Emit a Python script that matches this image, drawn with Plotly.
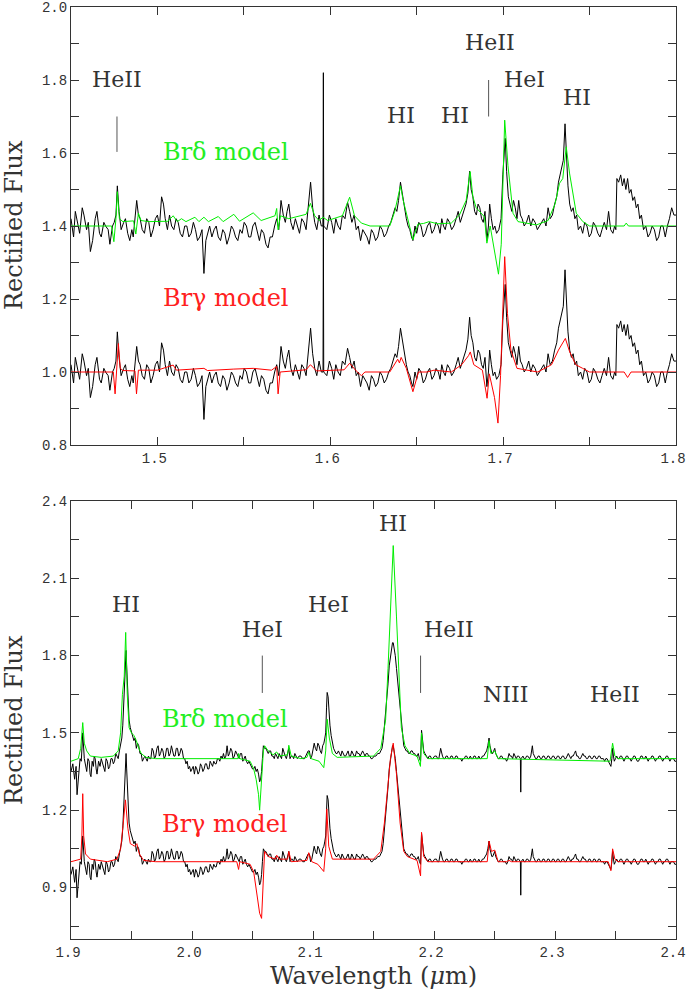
import plotly.graph_objects as go

OFFSET = 0.4  # upper copy of each spectrum is shifted by this much

# ---- H band (top panel): observed spectrum, (wavelength um, rectified flux)
h_obs = [
    (1.4500, 1.02), (1.4515, 0.97), (1.4525, 1.04), (1.4540, 1.00), (1.4550, 0.98),
    (1.4565, 1.05), (1.4575, 1.03), (1.4590, 0.99), (1.4600, 1.01), (1.4612, 0.93),
    (1.4625, 0.96), (1.4640, 1.02), (1.4650, 1.04), (1.4665, 0.98), (1.4675, 0.97),
    (1.4690, 1.01), (1.4700, 1.00), (1.4715, 0.99), (1.4725, 0.95), (1.4740, 1.00),
    (1.4750, 1.01), (1.4760, 1.03), (1.4768, 1.11), (1.4778, 1.04), (1.4790, 0.99),
    (1.4805, 1.01), (1.4815, 1.02), (1.4828, 0.98), (1.4840, 0.96), (1.4852, 0.99),
    (1.4860, 0.97), (1.4872, 1.03), (1.4880, 1.07), (1.4890, 1.03), (1.4900, 1.02),
    (1.4912, 0.99), (1.4925, 0.98), (1.4938, 1.02), (1.4950, 1.01), (1.4962, 0.97),
    (1.4975, 0.99), (1.4988, 1.02), (1.5000, 1.03), (1.5012, 1.00), (1.5024, 1.08),
    (1.5035, 1.06), (1.5045, 1.02), (1.5058, 0.99), (1.5070, 1.03), (1.5082, 1.00),
    (1.5095, 0.99), (1.5108, 1.02), (1.5120, 1.01), (1.5132, 0.98), (1.5145, 0.97),
    (1.5158, 1.00), (1.5170, 1.00), (1.5182, 0.97), (1.5195, 0.98), (1.5208, 1.01),
    (1.5220, 0.99), (1.5232, 0.96), (1.5245, 0.97), (1.5258, 0.99), (1.5269, 0.87),
    (1.5280, 0.96), (1.5290, 0.98), (1.5302, 1.00), (1.5315, 0.97), (1.5328, 0.99),
    (1.5340, 1.00), (1.5352, 0.97), (1.5365, 0.96), (1.5378, 0.99), (1.5390, 0.98),
    (1.5402, 0.95), (1.5415, 0.97), (1.5428, 1.00), (1.5440, 0.99), (1.5452, 0.97),
    (1.5465, 0.96), (1.5478, 0.99), (1.5490, 0.98), (1.5502, 1.01), (1.5515, 1.00),
    (1.5528, 0.97), (1.5540, 0.97), (1.5552, 1.00), (1.5565, 1.01), (1.5578, 0.98),
    (1.5590, 0.96), (1.5602, 0.99), (1.5615, 0.98), (1.5628, 0.95), (1.5640, 0.94),
    (1.5652, 0.97), (1.5665, 0.97), (1.5678, 1.00), (1.5690, 1.02), (1.5702, 0.99),
    (1.5715, 1.07), (1.5728, 1.03), (1.5740, 1.01), (1.5750, 1.04), (1.5760, 1.06),
    (1.5772, 1.01), (1.5785, 0.99), (1.5798, 1.02), (1.5810, 1.00), (1.5822, 0.98),
    (1.5835, 1.02), (1.5848, 1.01), (1.5860, 0.99), (1.5874, 1.05), (1.5886, 1.12),
    (1.5898, 1.05), (1.5910, 1.01), (1.5922, 0.99), (1.5935, 1.03), (1.5948, 1.00),
    (1.5958, 1.00), (1.5960, 1.42), (1.5962, 1.00), (1.5980, 0.99), (1.5995, 1.03),
    (1.6008, 1.01),
    (1.6020, 0.98), (1.6032, 1.02), (1.6045, 1.00), (1.6058, 0.99), (1.6070, 1.03),
    (1.6085, 1.02), (1.6100, 1.065), (1.6112, 1.04), (1.6125, 1.01), (1.6138, 1.03),
    (1.6150, 0.99), (1.6162, 1.00), (1.6175, 0.96), (1.6188, 0.99), (1.6200, 0.98),
    (1.6212, 0.97), (1.6225, 0.95), (1.6238, 0.99), (1.6250, 0.98), (1.6262, 0.96),
    (1.6275, 0.97), (1.6288, 1.00), (1.6300, 0.99), (1.6312, 0.97), (1.6325, 0.98),
    (1.6338, 1.00), (1.6350, 1.01), (1.6362, 1.03), (1.6375, 1.05), (1.6385, 1.04),
    (1.6395, 1.07), (1.6406, 1.12), (1.6415, 1.09), (1.6425, 1.06), (1.6440, 1.02),
    (1.6450, 1.00), (1.6460, 0.99), (1.6470, 0.97), (1.6478, 0.96), (1.6490, 1.00),
    (1.6500, 0.98), (1.6512, 1.01), (1.6525, 1.00), (1.6538, 0.97), (1.6550, 0.98),
    (1.6562, 1.00), (1.6575, 1.01), (1.6588, 0.98), (1.6600, 0.99), (1.6612, 1.01),
    (1.6625, 1.00), (1.6635, 0.98), (1.6645, 1.02), (1.6655, 1.00), (1.6665, 0.99),
    (1.6678, 1.02), (1.6690, 1.01), (1.6702, 0.99), (1.6715, 1.00), (1.6728, 1.02),
    (1.6740, 1.04), (1.6752, 1.01), (1.6765, 1.03), (1.6775, 1.05), (1.6785, 1.06),
    (1.6796, 1.09), (1.6806, 1.15), (1.6815, 1.10), (1.6825, 1.08), (1.6835, 1.04),
    (1.6845, 1.03), (1.6855, 1.06), (1.6865, 1.05), (1.6875, 1.02), (1.6885, 1.01),
    (1.6895, 1.04), (1.6906, 0.96), (1.6915, 1.00), (1.6922, 1.06), (1.6932, 1.02),
    (1.6942, 0.99), (1.6952, 1.00), (1.6962, 0.98), (1.6975, 0.99), (1.6988, 1.02),
    (1.6998, 1.14), (1.7005, 1.20), (1.7012, 1.24), (1.7020, 1.15), (1.7030, 1.08),
    (1.7040, 1.06), (1.7050, 1.04), (1.7060, 1.07), (1.7070, 1.05), (1.7080, 1.02),
    (1.7090, 1.07), (1.7100, 1.03), (1.7110, 1.02), (1.7122, 1.00), (1.7135, 1.01),
    (1.7148, 1.03), (1.7160, 1.00), (1.7172, 1.02), (1.7185, 1.01), (1.7198, 0.99),
    (1.7210, 1.00), (1.7222, 1.01), (1.7235, 1.02), (1.7248, 1.00), (1.7260, 1.05),
    (1.7272, 1.02), (1.7285, 1.03), (1.7298, 1.06), (1.7310, 1.08), (1.7320, 1.12),
    (1.7330, 1.14), (1.7340, 1.16), (1.7348, 1.18), (1.7358, 1.28), (1.7366, 1.20),
    (1.7375, 1.11), (1.7385, 1.06), (1.7395, 1.04), (1.7405, 1.05), (1.7415, 1.02),
    (1.7425, 1.03), (1.7435, 0.99), (1.7448, 1.00), (1.7460, 0.98), (1.7472, 1.01),
    (1.7485, 1.00), (1.7498, 0.97), (1.7510, 0.98), (1.7522, 1.01), (1.7535, 1.00),
    (1.7548, 0.98), (1.7560, 0.97), (1.7572, 0.99), (1.7585, 1.01), (1.7598, 0.99),
    (1.7610, 1.04), (1.7622, 0.99), (1.7635, 0.98), (1.7645, 1.00), (1.7652, 0.99),
    (1.7658, 1.13), (1.7668, 1.12), (1.7680, 1.14), (1.7690, 1.11), (1.7700, 1.13),
    (1.7710, 1.10), (1.7720, 1.13), (1.7730, 1.09), (1.7740, 1.10), (1.7750, 1.07),
    (1.7760, 1.08), (1.7770, 1.05), (1.7780, 1.06), (1.7790, 1.02), (1.7800, 1.03),
    (1.7812, 0.99), (1.7825, 1.00), (1.7838, 0.97), (1.7850, 0.98), (1.7862, 1.00),
    (1.7875, 0.99), (1.7888, 0.96), (1.7900, 0.97), (1.7912, 1.00), (1.7925, 1.00),
    (1.7938, 0.97), (1.7950, 1.00), (1.7962, 1.02), (1.7975, 1.05), (1.7988, 1.03),
    (1.8000, 1.03),
]

# H band Br-delta model (plotted with the upper copy)
h_brd = [
    (1.4500, 1.000), (1.4735, 1.000), (1.4748, 0.957), (1.4760, 1.020), (1.4768, 1.094),
    (1.4780, 1.020), (1.4800, 1.012), (1.4862, 1.014), (1.4875, 0.978), (1.4890, 1.035),
    (1.4905, 1.015), (1.4950, 1.012), (1.5060, 1.013), (1.5091, 1.028), (1.5115, 1.012),
    (1.5139, 1.020), (1.5165, 1.012), (1.5217, 1.024), (1.5240, 1.012), (1.5269, 1.024),
    (1.5295, 1.012), (1.5352, 1.026), (1.5380, 1.012), (1.5442, 1.032), (1.5475, 1.013),
    (1.5554, 1.036), (1.5600, 1.015), (1.5680, 1.028), (1.5690, 1.048), (1.5698, 0.990),
    (1.5712, 1.028), (1.5760, 1.020), (1.5860, 1.032), (1.5885, 1.062), (1.5910, 1.028),
    (1.5935, 1.015), (1.5958, 1.024), (1.5985, 1.015), (1.6070, 1.028), (1.6112, 1.079),
    (1.6140, 1.028), (1.6180, 1.008), (1.6230, 1.000), (1.6344, 1.000), (1.6373, 1.040),
    (1.6406, 1.110), (1.6422, 1.070), (1.6450, 1.020), (1.6478, 0.962), (1.6507, 1.005),
    (1.6540, 1.007), (1.6572, 1.012), (1.6620, 1.006), (1.6700, 1.008), (1.6747, 1.030),
    (1.6786, 1.070), (1.6809, 1.149), (1.6825, 1.080), (1.6844, 1.050), (1.6892, 1.025),
    (1.6906, 0.953), (1.6925, 1.000), (1.6950, 0.930), (1.6973, 0.868), (1.6989, 0.950),
    (1.7000, 1.150), (1.7009, 1.290), (1.7028, 1.165), (1.7057, 1.035), (1.7086, 1.012),
    (1.7192, 1.003), (1.7260, 1.015), (1.7300, 1.060), (1.7326, 1.117), (1.7345, 1.130),
    (1.7365, 1.217), (1.7384, 1.145), (1.7423, 1.035), (1.7461, 1.012), (1.7500, 1.000),
    (1.7700, 1.000), (1.7712, 1.008), (1.7725, 1.000), (1.8000, 1.000),
]

# H band Br-gamma model (plotted with the lower copy)
h_brg = [
    (1.4500, 1.000), (1.4745, 1.000), (1.4755, 0.940), (1.4764, 1.000), (1.4774, 1.078),
    (1.4785, 1.010), (1.4800, 1.004), (1.4870, 1.003), (1.4879, 0.940), (1.4890, 1.005),
    (1.5000, 1.005), (1.5091, 1.019), (1.5110, 1.005), (1.5269, 1.010), (1.5290, 1.004),
    (1.5442, 1.008), (1.5554, 1.010), (1.5660, 1.005), (1.5690, 1.015), (1.5698, 0.940),
    (1.5710, 1.000), (1.5860, 1.006), (1.5885, 1.020), (1.5920, 1.003), (1.6080, 1.006),
    (1.6112, 1.024), (1.6150, 1.003), (1.6180, 0.990), (1.6200, 1.000), (1.6344, 1.000),
    (1.6390, 1.035), (1.6400, 1.025), (1.6410, 1.040), (1.6440, 1.010), (1.6478, 0.946),
    (1.6510, 1.000), (1.6560, 1.000), (1.6600, 1.005), (1.6700, 1.000), (1.6760, 1.020),
    (1.6800, 1.045), (1.6810, 1.055), (1.6830, 1.020), (1.6880, 1.005), (1.6907, 0.928),
    (1.6920, 0.995), (1.6950, 0.930), (1.6970, 0.860), (1.6985, 0.990), (1.7009, 1.316),
    (1.7025, 1.160), (1.7045, 1.060), (1.7080, 1.010), (1.7200, 1.000), (1.7280, 1.020),
    (1.7320, 1.060), (1.7345, 1.080), (1.7360, 1.092), (1.7385, 1.055), (1.7420, 1.020),
    (1.7460, 1.010), (1.7500, 1.000), (1.7700, 1.000), (1.7720, 0.985), (1.7740, 1.000),
    (1.8000, 1.000),
]

# ---- K band (bottom panel)
k_obs = [
    (1.9000, 0.95), (1.9015, 0.98), (1.9030, 0.92), (1.9042, 0.97), (1.9050, 0.86),
    (1.9065, 0.96), (1.9075, 1.00), (1.9085, 0.99), (1.9097, 1.10), (1.9110, 1.00),
    (1.9120, 0.97), (1.9130, 0.95), (1.9140, 1.00), (1.9150, 0.99), (1.9158, 0.94),
    (1.9165, 0.93), (1.9175, 0.99), (1.9185, 0.97), (1.9192, 1.01), (1.9200, 1.00),
    (1.9208, 0.96), (1.9215, 0.94), (1.9228, 0.99), (1.9240, 0.97), (1.9250, 1.00),
    (1.9260, 0.98), (1.9270, 0.96), (1.9280, 0.95), (1.9290, 1.00), (1.9300, 0.99),
    (1.9310, 0.96), (1.9320, 0.97), (1.9330, 1.00), (1.9340, 1.00), (1.9350, 0.98),
    (1.9360, 0.99), (1.9370, 1.02), (1.9380, 1.01), (1.9390, 1.00), (1.9400, 1.03),
    (1.9410, 1.05), (1.9420, 1.08), (1.9428, 1.13), (1.9435, 1.20), (1.9442, 1.27),
    (1.9448, 1.36), (1.9455, 1.42), (1.9460, 1.36), (1.9465, 1.30), (1.9472, 1.20),
    (1.9480, 1.15), (1.9490, 1.12), (1.9500, 1.10), (1.9510, 1.09), (1.9520, 1.07),
    (1.9530, 1.08), (1.9540, 1.04), (1.9550, 1.06), (1.9560, 1.05), (1.9570, 1.02),
    (1.9580, 1.02), (1.9590, 0.99), (1.9600, 1.00), (1.9610, 1.01), (1.9620, 1.00),
    (1.9630, 0.99), (1.9640, 1.01), (1.9650, 1.00), (1.9660, 1.00), (1.9670, 1.04),
    (1.9680, 1.03), (1.9690, 1.00), (1.9700, 1.01), (1.9710, 1.04), (1.9720, 1.05),
    (1.9730, 1.01), (1.9740, 1.02), (1.9750, 1.04), (1.9760, 1.03), (1.9770, 1.00),
    (1.9780, 1.01), (1.9790, 1.04), (1.9800, 1.04), (1.9810, 1.01), (1.9820, 1.02),
    (1.9830, 1.05), (1.9840, 1.03), (1.9850, 1.01), (1.9860, 1.01), (1.9870, 1.04),
    (1.9880, 1.04), (1.9890, 1.01), (1.9900, 1.02), (1.9910, 1.04), (1.9920, 1.03),
    (1.9930, 1.00), (1.9940, 1.00), (1.9950, 0.98), (1.9960, 0.99), (1.9970, 0.96),
    (1.9980, 0.97), (1.9990, 0.95), (2.0000, 0.96), (2.0010, 0.97), (2.0020, 0.94),
    (2.0030, 0.97), (2.0040, 0.96), (2.0050, 0.94), (2.0060, 0.95), (2.0070, 0.98),
    (2.0080, 0.97), (2.0090, 0.95), (2.0100, 0.96), (2.0110, 0.98), (2.0120, 0.98),
    (2.0130, 0.96), (2.0140, 0.96), (2.0150, 0.99), (2.0160, 0.98), (2.0170, 0.97),
    (2.0180, 0.99), (2.0190, 0.98), (2.0200, 0.98), (2.0210, 1.00), (2.0220, 1.00),
    (2.0230, 0.99), (2.0240, 1.01), (2.0250, 1.00), (2.0260, 1.02), (2.0270, 1.00),
    (2.0280, 1.01), (2.0290, 1.05), (2.0300, 1.01), (2.0310, 1.02), (2.0320, 1.04),
    (2.0330, 1.03), (2.0340, 1.00), (2.0350, 1.01), (2.0360, 1.03), (2.0370, 1.02),
    (2.0380, 1.01), (2.0390, 1.00), (2.0400, 1.02), (2.0410, 1.02), (2.0420, 0.99),
    (2.0430, 1.00), (2.0440, 1.01), (2.0450, 0.99), (2.0460, 0.98), (2.0470, 0.99),
    (2.0480, 0.98), (2.0490, 0.97), (2.0500, 0.96), (2.0510, 0.96), (2.0520, 0.97),
    (2.0530, 0.95), (2.0540, 0.96), (2.0550, 0.94), (2.0559, 0.91), (2.0567, 0.92),
    (2.0575, 0.95), (2.0582, 1.00), (2.0590, 1.05), (2.0600, 1.04), (2.0610, 1.04),
    (2.0620, 1.03), (2.0630, 1.02), (2.0640, 1.03), (2.0650, 1.03), (2.0660, 1.01),
    (2.0670, 1.01), (2.0680, 1.00), (2.0690, 1.02), (2.0700, 1.01), (2.0710, 1.00),
    (2.0720, 1.02), (2.0730, 1.01), (2.0740, 1.00), (2.0750, 1.04), (2.0760, 1.02),
    (2.0770, 1.01), (2.0780, 1.00), (2.0790, 1.02), (2.0800, 1.04), (2.0810, 1.00),
    (2.0820, 1.01), (2.0830, 1.01), (2.0840, 1.00), (2.0850, 1.02), (2.0860, 1.01),
    (2.0870, 1.00), (2.0885, 1.01), (2.0900, 1.01), (2.0915, 1.00), (2.0930, 1.00),
    (2.0940, 1.01), (2.0950, 1.02), (2.0960, 1.03), (2.0970, 1.03), (2.0980, 1.00),
    (2.0990, 1.01), (2.1000, 1.03), (2.1010, 1.06), (2.1020, 1.04), (2.1030, 1.03),
    (2.1040, 1.06), (2.1050, 1.05), (2.1060, 1.03), (2.1070, 1.02), (2.1080, 1.05),
    (2.1090, 1.06), (2.1098, 1.08), (2.1105, 1.10), (2.1112, 1.20), (2.1117, 1.257),
    (2.1125, 1.24), (2.1130, 1.20), (2.1140, 1.13), (2.1150, 1.09), (2.1160, 1.06),
    (2.1170, 1.04), (2.1180, 1.03), (2.1190, 1.02), (2.1200, 1.02), (2.1210, 1.03),
    (2.1220, 1.02), (2.1230, 1.01), (2.1240, 1.03), (2.1250, 1.02), (2.1260, 1.01),
    (2.1270, 1.01), (2.1280, 1.02), (2.1290, 1.03), (2.1300, 1.01), (2.1310, 1.01),
    (2.1320, 1.03), (2.1330, 1.02), (2.1340, 1.01), (2.1350, 1.01), (2.1360, 1.03),
    (2.1370, 1.02), (2.1380, 1.02), (2.1390, 1.01), (2.1400, 1.02), (2.1410, 1.03),
    (2.1420, 1.02), (2.1430, 1.01), (2.1440, 1.02), (2.1450, 1.02), (2.1460, 1.01),
    (2.1470, 1.01), (2.1480, 1.00), (2.1490, 1.00), (2.1505, 1.01), (2.1520, 1.01),
    (2.1535, 1.02), (2.1550, 1.02), (2.1560, 1.03), (2.1570, 1.04), (2.1580, 1.07),
    (2.1590, 1.12), (2.1600, 1.18), (2.1610, 1.25), (2.1620, 1.29), (2.1630, 1.36),
    (2.1640, 1.39), (2.1650, 1.43), (2.1657, 1.45), (2.1663, 1.45), (2.1670, 1.43),
    (2.1680, 1.40), (2.1690, 1.35), (2.1700, 1.30), (2.1710, 1.24), (2.1723, 1.18),
    (2.1730, 1.13), (2.1740, 1.08), (2.1750, 1.05), (2.1760, 1.04), (2.1770, 1.03),
    (2.1780, 1.03), (2.1790, 1.02), (2.1800, 1.02), (2.1810, 1.03), (2.1820, 1.03),
    (2.1830, 1.02), (2.1840, 1.02), (2.1850, 1.01), (2.1860, 1.01), (2.1870, 1.02),
    (2.1880, 1.00), (2.1889, 0.99), (2.1897, 1.11), (2.1905, 1.06), (2.1915, 1.03),
    (2.1925, 1.02), (2.1935, 1.01), (2.1950, 1.00), (2.1960, 1.01), (2.1970, 1.01),
    (2.1980, 1.00), (2.1990, 1.00), (2.2005, 1.01), (2.2020, 1.01), (2.2030, 1.00),
    (2.2040, 1.00), (2.2055, 1.04), (2.2062, 1.02), (2.2070, 1.01), (2.2080, 1.00),
    (2.2090, 1.00), (2.2100, 1.01), (2.2110, 1.01), (2.2120, 1.00), (2.2130, 1.00),
    (2.2140, 1.01), (2.2150, 1.01), (2.2160, 1.00), (2.2170, 1.00), (2.2180, 1.01),
    (2.2190, 1.01), (2.2200, 1.00), (2.2210, 1.00), (2.2220, 1.00), (2.2230, 0.99),
    (2.2240, 1.00), (2.2250, 1.00), (2.2260, 1.01), (2.2270, 1.01), (2.2280, 1.00),
    (2.2290, 1.00), (2.2300, 1.01), (2.2310, 1.00), (2.2320, 1.00), (2.2330, 1.01),
    (2.2340, 1.01), (2.2350, 1.00), (2.2360, 1.00), (2.2370, 1.01), (2.2380, 1.00),
    (2.2390, 1.00), (2.2400, 1.01), (2.2410, 1.01), (2.2425, 1.02), (2.2435, 1.03),
    (2.2445, 1.05), (2.2455, 1.08), (2.2462, 1.05), (2.2470, 1.03), (2.2478, 1.02),
    (2.2485, 1.02), (2.2495, 1.03), (2.2502, 1.04), (2.2510, 1.02), (2.2520, 1.01),
    (2.2530, 1.00), (2.2540, 1.00), (2.2550, 1.01), (2.2560, 1.01), (2.2570, 1.00),
    (2.2579, 1.00), (2.2590, 1.00), (2.2600, 0.99), (2.2610, 1.00), (2.2620, 1.02),
    (2.2630, 1.01), (2.2640, 1.01), (2.2650, 1.00), (2.2660, 1.02), (2.2670, 1.01),
    (2.2680, 1.00), (2.2690, 1.01), (2.2700, 1.01), (2.2714, 1.00), (2.2717, 0.87),
    (2.2720, 1.00), (2.2735, 1.01), (2.2745, 1.00), (2.2755, 1.00), (2.2765, 1.01),
    (2.2775, 1.01), (2.2790, 1.00), (2.2800, 1.01), (2.2808, 1.03), (2.2813, 1.05),
    (2.2820, 1.02), (2.2830, 1.01), (2.2840, 1.00), (2.2850, 1.00), (2.2860, 1.01),
    (2.2870, 1.01), (2.2880, 1.00), (2.2890, 1.00), (2.2900, 1.01), (2.2910, 1.01),
    (2.2920, 1.00), (2.2930, 1.00), (2.2940, 1.01), (2.2950, 1.01), (2.2960, 1.00),
    (2.2970, 1.00), (2.2980, 1.01), (2.2990, 1.01), (2.3000, 1.00), (2.3010, 1.00),
    (2.3020, 1.01), (2.3030, 1.01), (2.3040, 1.00), (2.3050, 1.00), (2.3060, 1.01),
    (2.3070, 1.01), (2.3080, 1.00), (2.3090, 1.00), (2.3100, 1.01), (2.3110, 1.02),
    (2.3120, 1.01), (2.3131, 1.00), (2.3140, 1.01), (2.3150, 1.01), (2.3160, 1.02),
    (2.3170, 1.03), (2.3180, 1.01), (2.3190, 1.01), (2.3200, 1.00), (2.3210, 1.00),
    (2.3220, 1.01), (2.3230, 1.02), (2.3240, 1.01), (2.3250, 1.01), (2.3260, 1.00),
    (2.3270, 1.00), (2.3280, 1.01), (2.3290, 1.01), (2.3300, 1.00), (2.3310, 1.00),
    (2.3320, 1.01), (2.3330, 1.01), (2.3340, 1.00), (2.3350, 1.00), (2.3360, 1.01),
    (2.3370, 1.01), (2.3380, 1.00), (2.3390, 1.00), (2.3400, 1.00), (2.3410, 0.99),
    (2.3420, 1.00), (2.3430, 1.00), (2.3440, 0.99), (2.3450, 0.98), (2.3462, 0.97),
    (2.3470, 1.00), (2.3476, 1.04), (2.3483, 1.01), (2.3490, 0.99), (2.3500, 1.00),
    (2.3510, 1.01), (2.3520, 1.00), (2.3530, 1.00), (2.3540, 1.01), (2.3550, 1.01),
    (2.3560, 1.00), (2.3570, 0.99), (2.3580, 1.00), (2.3590, 1.01), (2.3600, 1.01),
    (2.3610, 1.00), (2.3620, 1.00), (2.3630, 0.99), (2.3640, 1.00), (2.3650, 1.01),
    (2.3660, 1.01), (2.3670, 1.00), (2.3680, 0.99), (2.3690, 0.99), (2.3700, 1.00),
    (2.3710, 1.01), (2.3720, 1.01), (2.3730, 1.00), (2.3740, 1.00), (2.3750, 1.01),
    (2.3760, 1.00), (2.3770, 0.99), (2.3780, 1.00), (2.3790, 1.00), (2.3800, 1.01),
    (2.3810, 1.01), (2.3820, 1.00), (2.3830, 0.99), (2.3840, 1.00), (2.3850, 1.00),
    (2.3860, 1.01), (2.3870, 1.01), (2.3880, 1.00), (2.3890, 0.99), (2.3900, 1.00),
    (2.3910, 1.00), (2.3920, 1.01), (2.3930, 1.01), (2.3940, 1.00), (2.3950, 0.99),
    (2.3960, 1.00), (2.3970, 1.00), (2.3980, 1.00), (2.3990, 0.99), (2.4000, 0.99),
]

k_brd = [
    (1.9000, 0.990), (1.9060, 1.000), (1.9080, 1.040), (1.9097, 1.140), (1.9110, 1.060),
    (1.9130, 1.030), (1.9160, 1.010), (1.9250, 1.005), (1.9350, 1.010), (1.9390, 1.030),
    (1.9410, 1.100), (1.9425, 1.250), (1.9440, 1.320), (1.9452, 1.490), (1.9465, 1.250),
    (1.9480, 1.120), (1.9500, 1.100), (1.9520, 1.090), (1.9540, 1.070), (1.9560, 1.040),
    (1.9580, 1.020), (1.9620, 1.005), (1.9700, 1.000), (2.0380, 1.000), (2.0385, 1.020),
    (2.0395, 1.000), (2.0480, 0.990), (2.0510, 0.960), (2.0530, 0.920), (2.0550, 0.860),
    (2.0559, 0.800), (2.0575, 0.900), (2.0590, 1.030), (2.0600, 1.050), (2.0630, 1.030),
    (2.0670, 1.015), (2.0700, 1.026), (2.0720, 1.010), (2.0790, 1.015), (2.0800, 1.052),
    (2.0820, 1.010), (2.0900, 1.000), (2.0950, 1.005), (2.0965, 1.025), (2.0985, 1.000),
    (2.1050, 0.990), (2.1089, 0.965), (2.1105, 1.030), (2.1117, 1.153), (2.1135, 1.080),
    (2.1160, 1.020), (2.1200, 1.005), (2.1500, 1.010), (2.1560, 1.040), (2.1600, 1.150),
    (2.1620, 1.350), (2.1640, 1.600), (2.1663, 1.827), (2.1690, 1.550), (2.1710, 1.300),
    (2.1730, 1.120), (2.1760, 1.050), (2.1800, 1.020), (2.1860, 1.010), (2.1888, 0.970),
    (2.1897, 1.100), (2.1915, 1.020), (2.1950, 1.000), (2.2440, 1.000), (2.2455, 1.070),
    (2.2470, 1.020), (2.2502, 1.030), (2.2530, 1.000), (2.3455, 0.990), (2.3476, 1.060),
    (2.3495, 1.010), (2.3520, 1.000), (2.4000, 1.000),
]

k_brg = [
    (1.9000, 1.000), (1.9080, 1.010), (1.9090, 1.100), (1.9097, 1.264), (1.9105, 1.100),
    (1.9120, 1.030), (1.9160, 1.010), (1.9300, 1.000), (1.9380, 1.010), (1.9410, 1.050),
    (1.9430, 1.140), (1.9450, 1.240), (1.9470, 1.130), (1.9490, 1.070), (1.9510, 1.065),
    (1.9525, 1.060), (1.9544, 1.070), (1.9565, 1.030), (1.9600, 1.005), (1.9700, 1.000),
    (2.0370, 1.000), (2.0385, 0.970), (2.0395, 1.000), (2.0480, 0.990), (2.0510, 0.960),
    (2.0540, 0.860), (2.0559, 0.800), (2.0575, 0.780), (2.0590, 0.980), (2.0600, 1.040),
    (2.0630, 1.020), (2.0690, 1.010), (2.0700, 1.025), (2.0720, 1.010), (2.0790, 1.010),
    (2.0800, 1.040), (2.0820, 1.000), (2.0950, 1.005), (2.0965, 1.035), (2.0990, 1.000),
    (2.1040, 0.990), (2.1089, 0.962), (2.1105, 1.050), (2.1114, 1.205), (2.1130, 1.060),
    (2.1160, 1.010), (2.1500, 1.010), (2.1560, 1.040), (2.1590, 1.150), (2.1620, 1.300),
    (2.1640, 1.400), (2.1663, 1.460), (2.1690, 1.340), (2.1720, 1.150), (2.1750, 1.040),
    (2.1780, 1.020), (2.1860, 1.005), (2.1889, 0.945), (2.1897, 1.114), (2.1915, 1.020),
    (2.1950, 1.000), (2.2440, 1.000), (2.2455, 1.080), (2.2475, 1.040), (2.2502, 1.045),
    (2.2530, 1.000), (2.2600, 1.000), (2.2620, 1.005), (2.2640, 1.000), (2.3440, 1.000),
    (2.3462, 0.965), (2.3476, 1.050), (2.3495, 1.010), (2.3520, 1.000), (2.4000, 1.000),
]

# line identifications: (text, wavelength, flux)
h_labels = [("HeII", 1.4766, 1.80), ("HI", 1.6408, 1.704), ("HI", 1.6720, 1.704),
            ("HeII", 1.6922, 1.904), ("HeI", 1.7124, 1.80), ("HI", 1.7430, 1.753)]
h_marks = [(1.4766, 1.603, 1.70), (1.6916, 1.70, 1.80)]
k_labels = [("HI", 1.9455, 2.00), ("HeI", 2.0581, 1.90), ("HeI", 2.1128, 2.00),
            ("HI", 2.1657, 2.312), ("HeII", 2.2121, 1.90), ("NIII", 2.2593, 1.65),
            ("HeII", 2.3495, 1.65)]
k_marks = [(2.0581, 1.655, 1.80), (2.1889, 1.655, 1.80)]

# model labels: (text, color, wavelength, flux)
h_models = [("Brδ model", "#22ee22", 1.5396, 1.603), ("Brγ model", "#ff2020", 1.5396, 1.203)]
k_models = [("Brδ model", "#22ee22", 2.0275, 1.553), ("Brγ model", "#ff2020", 2.0275, 1.147)]

h_xticks = [1.45, 1.50, 1.55, 1.60, 1.65, 1.70, 1.75, 1.80]
h_xtext = ["", "1.5", "", "1.6", "", "1.7", "", "1.8"]
h_yticks = [0.8, 0.9, 1.0, 1.1, 1.2, 1.3, 1.4, 1.5, 1.6, 1.7, 1.8, 1.9, 2.0]
h_ytext = ["0.8", "", "1.0", "", "1.2", "", "1.4", "", "1.6", "", "1.8", "", "2.0"]
k_xticks = [1.90, 1.95, 2.00, 2.05, 2.10, 2.15, 2.20, 2.25, 2.30, 2.35, 2.40]
k_xtext = ["1.9", "", "2.0", "", "2.1", "", "2.2", "", "2.3", "", "2.4"]
k_yticks = [0.75, 0.9, 1.05, 1.2, 1.35, 1.5, 1.65, 1.8, 1.95, 2.1, 2.25, 2.4]
k_ytext = ["", "0.9", "", "1.2", "", "1.5", "", "1.8", "", "2.1", "", "2.4"]

GREEN = "#00ee00"
RED = "#ff0000"
INK = "#333333"
SERIF = "DejaVu Serif, serif"
MONO = "Liberation Mono, monospace"


def split(pairs, shift=0.0):
    return [p[0] for p in pairs], [p[1] + shift for p in pairs]


fig = go.Figure()

panels = [
    ("x", "y", h_obs, h_brd, h_brg),
    ("x2", "y2", k_obs, k_brd, k_brg),
]
for xa, ya, obs, brd, brg in panels:
    for shift in (OFFSET, 0.0):
        wl, fl = split(obs, shift)
        fig.add_trace(go.Scatter(x=wl, y=fl, mode="lines", xaxis=xa, yaxis=ya,
                                 line=dict(color="black", width=1)))
    wl, fl = split(brd, OFFSET)
    fig.add_trace(go.Scatter(x=wl, y=fl, mode="lines", xaxis=xa, yaxis=ya,
                             line=dict(color=GREEN, width=1)))
    wl, fl = split(brg)
    fig.add_trace(go.Scatter(x=wl, y=fl, mode="lines", xaxis=xa, yaxis=ya,
                             line=dict(color=RED, width=1)))

annotations = []
shapes = []
for xa, ya, labels, marks, models in [("x", "y", h_labels, h_marks, h_models),
                                      ("x2", "y2", k_labels, k_marks, k_models)]:
    for text, wl, fl in labels:
        annotations.append(dict(text=text, x=wl, y=fl, xref=xa, yref=ya, showarrow=False,
                                xanchor="center", yanchor="middle",
                                font=dict(family=SERIF, size=22, color=INK)))
    for wl, f0, f1 in marks:
        shapes.append(dict(type="line", xref=xa, yref=ya, x0=wl, x1=wl, y0=f0, y1=f1,
                           line=dict(color="#555555", width=1)))
    for text, color, wl, fl in models:
        annotations.append(dict(text=text, x=wl, y=fl, xref=xa, yref=ya, showarrow=False,
                                xanchor="center", yanchor="middle",
                                font=dict(family=SERIF, size=24, color=color)))

for yc in [1 - 225 / 993, 1 - 720 / 993]:
    annotations.append(dict(text="Rectified Flux", x=14 / 688, y=yc, xref="paper", yref="paper",
                            showarrow=False, textangle=-90, xanchor="center", yanchor="middle",
                            font=dict(family=SERIF, size=24, color=INK)))
annotations.append(dict(text="Wavelength (<i>μ</i>m)", x=373 / 688, y=1 - 976 / 993,
                        xref="paper", yref="paper", showarrow=False,
                        xanchor="center", yanchor="middle",
                        font=dict(family=SERIF, size=24, color=INK)))

axis_common = dict(showgrid=False, zeroline=False, showline=True, linecolor=INK, linewidth=1,
                   mirror="allticks", ticks="inside", ticklen=8, tickcolor=INK,
                   automargin=False, ticklabeloverflow="allow",
                   tickfont=dict(family=MONO, size=14, color=INK))
# x labels nudged left a touch so the last one ("1.8", "2.4") stays inside the page
xaxis_extra = dict(ticklabelshift=-3)

fig.update_layout(
    width=688, height=993,
    margin=dict(l=0, r=0, t=0, b=0),
    paper_bgcolor="white", plot_bgcolor="white",
    showlegend=False,
    xaxis=dict(domain=[71 / 688, 676 / 688], range=[1.45, 1.80], anchor="y",
               tickmode="array", tickvals=h_xticks, ticktext=h_xtext,
               **axis_common, **xaxis_extra),
    yaxis=dict(domain=[1 - 445 / 993, 1 - 7 / 993], range=[0.8, 2.0], anchor="x",
               tickmode="array", tickvals=h_yticks, ticktext=h_ytext, **axis_common),
    xaxis2=dict(domain=[71 / 688, 676 / 688], range=[1.90, 2.40], anchor="y2",
                tickmode="array", tickvals=k_xticks, ticktext=k_xtext,
                **axis_common, **xaxis_extra),
    yaxis2=dict(domain=[1 - 939 / 993, 1 - 501 / 993], range=[0.7, 2.4], anchor="x2",
                tickmode="array", tickvals=k_yticks, ticktext=k_ytext, **axis_common),
    annotations=annotations,
    shapes=shapes,
)

# the page is photographed at exactly the figure size, so drop the default body margin
fig.write_html("out.html", config={"displayModeBar": False},
               post_script="document.body.style.margin = '0px';")
